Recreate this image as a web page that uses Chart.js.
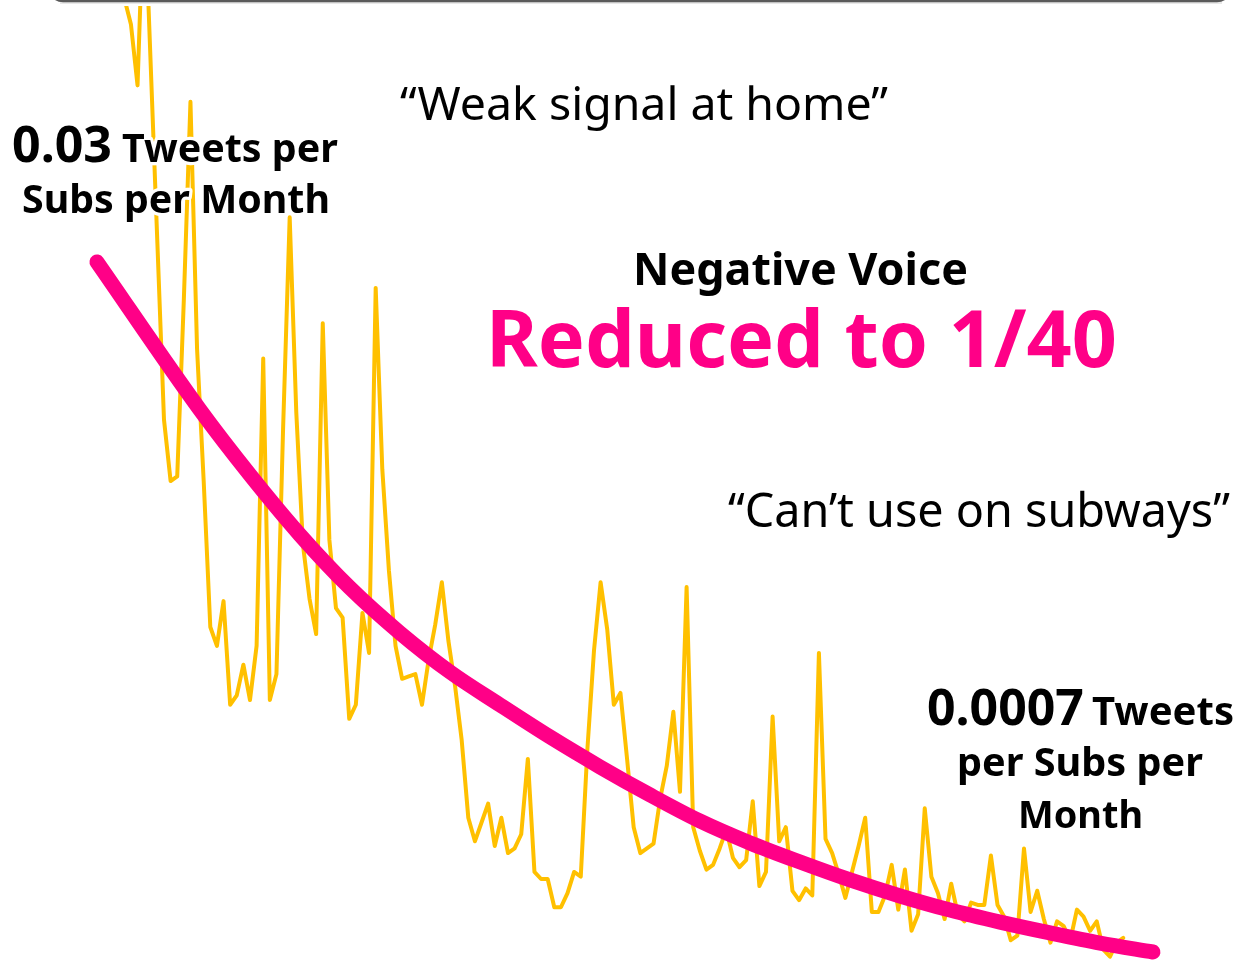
<!DOCTYPE html>
<html>
<head>
<meta charset="utf-8">
<script src="https://cdn.jsdelivr.net/npm/chart.js@4.4.1/dist/chart.umd.min.js"></script>
<style>
  html, body { margin: 0; padding: 0; background: #ffffff; }
  #wrap { position: relative; width: 1237px; height: 961px; }
</style>
</head>
<body>
<div id="wrap"><canvas id="c"></canvas></div>
<script>
// ---- Data ----
// Monthly negative-voice rate: tweets per subscriber per month
const tweetsPerSub = [
  0.0412, 0.0401, 0.0375, 0.0458, 0.0383, 0.0308, 0.0233, 0.0207, 0.0209, 0.0284,
  0.0368, 0.0263, 0.0207, 0.0145, 0.0137, 0.0156, 0.0112, 0.0116, 0.0129, 0.0114,
  0.0137, 0.0259, 0.0114, 0.0125, 0.0229, 0.0319, 0.0236, 0.0180, 0.0157, 0.0142,
  0.0274, 0.0182, 0.0153, 0.0149, 0.0106, 0.0112, 0.0151, 0.0134, 0.0289, 0.0212,
  0.0169, 0.0137, 0.0123, 0.0124, 0.0125, 0.0112, 0.0131, 0.0146, 0.0164, 0.0139,
  0.0120, 0.0097, 0.0064, 0.0054, 0.0062, 0.0070, 0.0052, 0.0064, 0.0049, 0.0051,
  0.0057, 0.0089, 0.0041, 0.0038, 0.0038, 0.0026, 0.0026, 0.0032, 0.0041, 0.0039,
  0.0093, 0.0135, 0.0164, 0.0144, 0.0112, 0.0117, 0.0089, 0.0060, 0.0049, 0.0051,
  0.0053, 0.0072, 0.0086, 0.0109, 0.0075, 0.0162, 0.0060, 0.0050, 0.0042, 0.0044,
  0.0051, 0.0059, 0.0047, 0.0043, 0.0046, 0.0071, 0.0035, 0.0041, 0.0107, 0.0054,
  0.0060, 0.0033, 0.0029, 0.0034, 0.0031, 0.0134, 0.0055, 0.0049, 0.0040, 0.0030,
  0.0041, 0.0052, 0.0064, 0.0024, 0.0024, 0.0031, 0.0044, 0.0025, 0.0042, 0.0016,
  0.0023, 0.0068, 0.0039, 0.0032, 0.0021, 0.0036, 0.0023, 0.0020, 0.0028, 0.0027,
  0.0027, 0.0048, 0.0027, 0.0022, 0.0012, 0.0014, 0.0051, 0.0024, 0.0033, 0.0021,
  0.0011, 0.0020, 0.0018, 0.0012, 0.0025, 0.0022, 0.0016, 0.0020, 0.0008, 0.0005,
  0.0011, 0.0013
];
const months = tweetsPerSub.map((_, i) => i);

// Trend curve (pink), sampled along the drawn curve
const trendMonth = [-4.13, 11.44, 19.0, 26.56, 34.12, 41.68, 49.24, 56.8,
  64.35, 71.91, 79.47, 87.03, 94.59, 102.15, 109.71, 117.27, 124.82, 132.38, 139.94, 147.5, 155.5];
const trendValue = [0.0300, 0.02372, 0.02096, 0.01841, 0.01616, 0.01425, 0.01259, 0.01119,
  0.00983, 0.00856, 0.00737, 0.00626, 0.00533, 0.00452, 0.00376, 0.00308, 0.00248, 0.00197, 0.00151, 0.00108, 0.0007];

// Texts
const quoteHome = "\u201CWeak signal at home\u201D";
const quoteSubway = "\u201CCan\u2019t use on subways\u201D";
const headline = "Negative Voice";
const headlineBig = "Reduced to 1/40";
const startValue = "0.03", startUnit1 = "Tweets per", startUnit2 = "Subs per Month";
const endValue = "0.0007", endUnit1 = "Tweets", endUnit2 = "per Subs per", endUnit3 = "Month";

// ---- Styling / layout ----
const YELLOW = '#FFC000';
const PINK = '#FF0087';
const FONT = '"Noto Sans", "DejaVu Sans", sans-serif';

// text runs: [text, left, right, baseline, weight, color]
const textRuns = [
  [quoteHome, 400, 888, 120, 400, '#000'],
  [startValue, 12, 112, 162, 700, '#000'],
  [startUnit1, 122, 338, 162, 700, '#000'],
  [startUnit2, 22, 330, 213, 700, '#000'],
  [headline, 633, 968, 285, 700, '#000'],
  [headlineBig, 486, 1117, 367, 700, PINK],
  [quoteSubway, 728, 1230, 527, 400, '#000'],
  [endValue, 927, 1084, 725, 700, '#000'],
  [endUnit1, 1092, 1234, 725, 700, '#000'],
  [endUnit2, 957, 1203, 776, 700, '#000'],
  [endUnit3, 1018, 1143, 828, 700, '#000']
];

const overlay = {
  id: 'overlay',
  beforeDraw(chart) {
    const ctx = chart.ctx;
    ctx.save();
    ctx.fillStyle = '#fff';
    ctx.fillRect(0, 0, chart.width, chart.height);
    ctx.restore();
  },
  afterDraw(chart) {
    const ctx = chart.ctx;
    ctx.save();
    // top frame edge
    ctx.strokeStyle = '#5a5a5a';
    ctx.lineWidth = 2.5;
    ctx.beginPath();
    if (ctx.roundRect) ctx.roundRect(49, -40, 1182, 41, 14);
    else ctx.rect(49, -40, 1182, 41);
    ctx.stroke();
    ctx.strokeStyle = 'rgba(0,0,0,0.12)';
    ctx.lineWidth = 1.5;
    ctx.beginPath();
    ctx.moveTo(60, 3); ctx.lineTo(1222, 3);
    ctx.stroke();

    // text with white halo
    ctx.textAlign = 'left';
    ctx.textBaseline = 'alphabetic';
    ctx.lineJoin = 'round';
    for (const [t, l, r, b, w, col] of textRuns) {
      ctx.font = `${w} 100px ${FONT}`;
      const mw = ctx.measureText(t).width;
      const size = 100 * (r - l) / mw;
      ctx.font = `${w} ${size.toFixed(2)}px ${FONT}`;
      ctx.strokeStyle = '#fff';
      ctx.lineWidth = Math.max(6, size * 0.16);
      ctx.strokeText(t, l, b);
      ctx.fillStyle = col;
      ctx.fillText(t, l, b);
    }
    ctx.restore();
  }
};

const ctxEl = document.getElementById('c');
new Chart(ctxEl, {
  type: 'line',
  data: {
    datasets: [
      {
        label: 'Trend',
        data: trendMonth.map((m, i) => ({ x: m, y: trendValue[i] })),
        borderColor: PINK,
        borderWidth: 15,
        borderCapStyle: 'round',
        borderJoinStyle: 'round',
        cubicInterpolationMode: 'monotone',
        pointRadius: 0,
        fill: false,
        clip: false,
        order: 0
      },
      {
        label: 'Tweets per Subs per Month',
        data: months.map((m, i) => ({ x: m, y: tweetsPerSub[i] })),
        borderColor: YELLOW,
        borderWidth: 4,
        borderJoinStyle: 'round',
        borderCapStyle: 'round',
        tension: 0,
        pointRadius: 0,
        fill: false,
        clip: { left: 5, top: 0, right: 5, bottom: 5 },
        order: 1
      }
    ]
  },
  options: {
    responsive: true,
    maintainAspectRatio: false,
    animation: false,
    events: [],
    layout: { padding: { top: 6, left: 0, right: 0, bottom: 0 } },
    plugins: { legend: { display: false }, tooltip: { enabled: false } },
    scales: {
      x: { type: 'linear', min: -18.79, max: 168.2, display: false },
      y: { type: 'linear', min: 0.000318, max: 0.040871, display: false }
    }
  },
  plugins: [overlay]
});
</script>
</body>
</html>
